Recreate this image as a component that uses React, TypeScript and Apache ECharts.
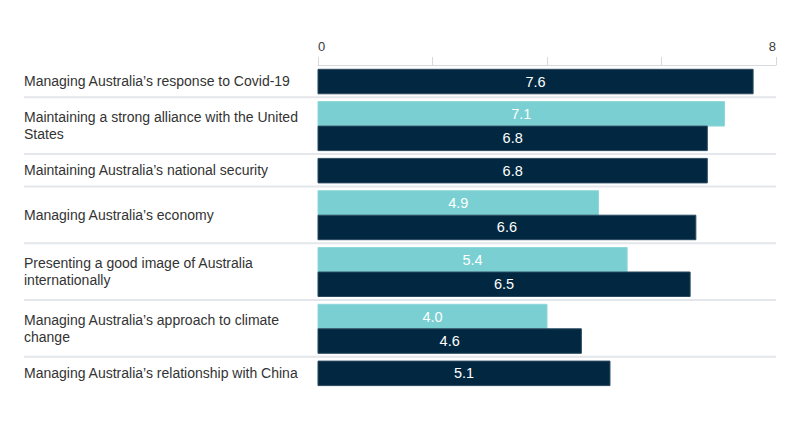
import React, { useEffect, useRef } from 'react';
import * as echarts from 'echarts';

// Row labels (wrapped as in the source chart)
const ROW_LABELS = [
  'Managing Australia’s response to Covid-19',
  'Maintaining a strong alliance with the United\nStates',
  'Maintaining Australia’s national security',
  'Managing Australia’s economy',
  'Presenting a good image of Australia\ninternationally',
  'Managing Australia’s approach to climate\nchange',
  'Managing Australia’s relationship with China',
];

// Light (teal) series: not every row has one
const TEAL_VALUES: (number | null)[] = [null, 7.1, null, 4.9, 5.4, 4.0, null];
// Dark (navy) series
const NAVY_VALUES: (number | null)[] = [7.6, 6.8, 6.8, 6.6, 6.5, 4.6, 5.1];

const X_MIN = 0;
const X_MAX = 8;
const X_INTERVAL = 2;
const X_LABELS_SHOWN = [0, 8];

const FONT = '"Liberation Sans", Arial, sans-serif';
const TEAL = '#79cfd2';
const NAVY = '#012840';

// row layout, in axis units (1 unit ~ 1px)
const PAD_TOP = 4.3;
const BAR_H = 24.5;
const PAD_BOTTOM = 3.5;

export default function App() {
  const ref = useRef<HTMLDivElement>(null);

  useEffect(() => {
    if (!ref.current) return;
    const chart = echarts.init(ref.current, null, { renderer: 'svg' });

    let cursor = 0;
    const rows = ROW_LABELS.map((label, i) => {
      const n = (TEAL_VALUES[i] != null ? 1 : 0) + (NAVY_VALUES[i] != null ? 1 : 0);
      const top = cursor;
      cursor += PAD_TOP + n * BAR_H + PAD_BOTTOM;
      return { label, top, bottom: cursor };
    });
    const total = cursor;

    const tealData: number[][] = [];
    const navyData: number[][] = [];
    rows.forEach((r, i) => {
      let y = r.top + PAD_TOP;
      if (TEAL_VALUES[i] != null) {
        tealData.push([TEAL_VALUES[i] as number, y]);
        y += BAR_H;
      }
      if (NAVY_VALUES[i] != null) navyData.push([NAVY_VALUES[i] as number, y]);
    });

    const barRenderer = (fill: string, stroke: string) => (params: any, api: any) => {
      const v = api.value(0);
      const y = api.value(1);
      const p0 = api.coord([0, y]);
      const p1 = api.coord([v, y + BAR_H]);
      return {
        type: 'rect',
        shape: { x: p0[0], y: p0[1], width: p1[0] - p0[0], height: p1[1] - p0[1] },
        style: { fill, stroke, lineWidth: 1 },
        textContent: {
          style: { text: v.toFixed(1), fill: '#ffffff', fontSize: 14.5, fontFamily: FONT },
        },
        textConfig: { position: 'inside' },
      };
    };

    chart.setOption({
      animation: false,
      grid: [
        { left: 318, width: 458, top: 65, height: total },
        { left: 24, right: 24, top: 65, height: total },
      ],
      xAxis: [
        {
          type: 'value',
          gridIndex: 0,
          position: 'top',
          min: X_MIN,
          max: X_MAX,
          interval: X_INTERVAL,
          axisLine: { show: true, lineStyle: { color: '#d6dade', width: 1 } },
          axisTick: { show: true, length: 8, lineStyle: { color: '#d6dade' } },
          splitLine: { show: false },
          axisLabel: {
            formatter: (v: number) => (X_LABELS_SHOWN.includes(v) ? String(v) : ''),
            color: '#3c3c3c',
            fontSize: 13,
            fontFamily: FONT,
            margin: 12,
            alignMinLabel: 'left',
            alignMaxLabel: 'right',
          },
        },
        { type: 'value', gridIndex: 1, min: 0, max: 1, show: false },
      ],
      yAxis: [
        { type: 'value', gridIndex: 0, min: 0, max: total, inverse: true, show: false },
        { type: 'value', gridIndex: 1, min: 0, max: total, inverse: true, show: false },
      ],
      series: [
        {
          name: 'separators',
          type: 'custom',
          xAxisIndex: 1,
          yAxisIndex: 1,
          silent: true,
          data: rows.slice(0, -1).map((r) => [0, r.bottom]),
          renderItem: (params: any, api: any) => {
            const a = api.coord([0, api.value(1)]);
            const b = api.coord([1, api.value(1)]);
            return {
              type: 'line',
              shape: { x1: a[0], y1: a[1], x2: b[0], y2: b[1] },
              style: { stroke: '#e3e6ea', lineWidth: 2 },
            };
          },
        },
        {
          name: 'labels',
          type: 'custom',
          xAxisIndex: 1,
          yAxisIndex: 1,
          silent: true,
          data: rows.map((r, i) => [0, (r.top + r.bottom) / 2, i]),
          renderItem: (params: any, api: any) => {
            const p = api.coord([0, api.value(1)]);
            return {
              type: 'text',
              x: p[0],
              y: p[1],
              style: {
                text: ROW_LABELS[api.value(2)],
                fill: '#333333',
                fontSize: 14,
                fontFamily: FONT,
                lineHeight: 17,
                align: 'left',
                verticalAlign: 'middle',
              },
            };
          },
        },
        {
          name: 'teal',
          type: 'custom',
          xAxisIndex: 0,
          yAxisIndex: 0,
          data: tealData,
          renderItem: barRenderer(TEAL, '#8fd8da'),
        },
        {
          name: 'navy',
          type: 'custom',
          xAxisIndex: 0,
          yAxisIndex: 0,
          data: navyData,
          renderItem: barRenderer(NAVY, '#2b4a60'),
        },
      ],
    });

    return () => chart.dispose();
  }, []);

  return (
    <div
      ref={ref}
      style={{ position: 'fixed', left: 0, top: 0, width: 800, height: 435, background: '#ffffff' }}
    ></div>
  );
}
